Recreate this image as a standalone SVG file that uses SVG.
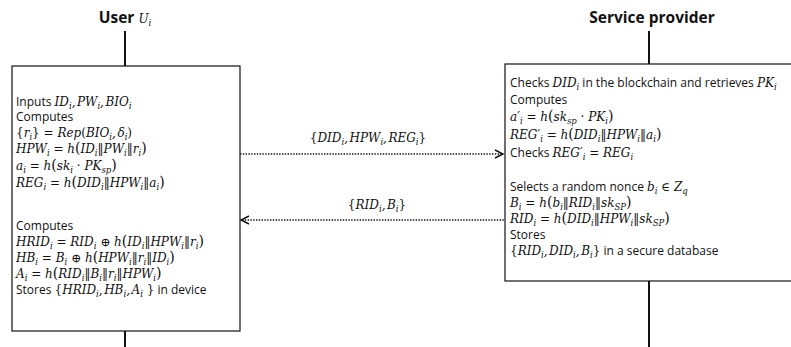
<svg xmlns="http://www.w3.org/2000/svg" width="791" height="347" viewBox="0 0 791 347">
  <defs>
    <style>
      .t { font-family: "Open Sans", "Liberation Sans", sans-serif; font-size: 12px; fill: #111; }
      .hd { font-family: "Open Sans", "Liberation Sans", sans-serif; font-size: 15.5px; font-weight: bold; fill: #111; }
      .m { font-family: "DejaVu Serif", "Liberation Serif", serif; font-style: italic; font-size: 12px; }
      .r { font-style: normal; }
      .s { font-size: 8.5px; baseline-shift: -3px; }
      .p { font-size: 14px; font-style: normal; }
      .box { fill: #fff; stroke: #111; stroke-width: 1.2; }
      .life { stroke: #111; stroke-width: 2; }
      .msg { stroke: #111; stroke-width: 1.3; stroke-dasharray: 1.4 1.4; fill: none; }
      .head { stroke: #111; stroke-width: 1.4; fill: none; }
    </style>
  </defs>

  <!-- user lifeline, title and registration box -->
  <g id="user">
    <text class="hd" x="125" y="23" text-anchor="middle">User <tspan class="m" font-weight="normal" font-size="15px">U<tspan class="s">i</tspan></tspan></text>
    <line class="life" x1="125" y1="31" x2="125" y2="66"/>
    <line class="life" x1="125" y1="331" x2="125" y2="347"/>
    <rect class="box" x="12" y="66" width="228" height="265"/>
    <text class="t" x="16" y="106">Inputs <tspan class="m">ID<tspan class="s">i</tspan>,<tspan dx="1.5">PW</tspan><tspan class="s">i</tspan>,<tspan dx="1.5">BIO</tspan><tspan class="s">i</tspan></tspan></text>
    <text class="t" x="16" y="121">Computes</text>
    <text class="t m" x="16" y="137"><tspan class="r">{</tspan>r<tspan class="s">i</tspan><tspan class="r">} = </tspan>Rep<tspan class="r">(</tspan>BIO<tspan class="s">i</tspan>,<tspan dx="1.5">δ</tspan><tspan class="s">i</tspan><tspan class="r">)</tspan></text>
    <text class="t m" x="16" y="153">HPW<tspan class="s">i</tspan><tspan class="r"> = </tspan>h<tspan class="p">(</tspan>ID<tspan class="s">i</tspan><tspan class="r">‖</tspan>PW<tspan class="s">i</tspan><tspan class="r">‖</tspan>r<tspan class="s">i</tspan><tspan class="p">)</tspan></text>
    <text class="t m" x="16" y="170">a<tspan class="s">i</tspan><tspan class="r"> = </tspan>h<tspan class="p">(</tspan>sk<tspan class="s">i</tspan><tspan class="r"> · </tspan>PK<tspan class="s">sp</tspan><tspan class="p">)</tspan></text>
    <text class="t m" x="16" y="187">REG<tspan class="s">i</tspan><tspan class="r"> = </tspan>h<tspan class="p">(</tspan>DID<tspan class="s">i</tspan><tspan class="r">‖</tspan>HPW<tspan class="s">i</tspan><tspan class="r">‖</tspan>a<tspan class="s">i</tspan><tspan class="p">)</tspan></text>
    <text class="t" x="16" y="230">Computes</text>
    <text class="t m" x="16" y="246">HRID<tspan class="s">i</tspan><tspan class="r"> = </tspan>RID<tspan class="s">i</tspan><tspan class="r"> ⊕ </tspan>h<tspan class="p">(</tspan>ID<tspan class="s">i</tspan><tspan class="r">‖</tspan>HPW<tspan class="s">i</tspan><tspan class="r">‖</tspan>r<tspan class="s">i</tspan><tspan class="p">)</tspan></text>
    <text class="t m" x="16" y="262">HB<tspan class="s">i</tspan><tspan class="r"> = </tspan>B<tspan class="s">i</tspan><tspan class="r"> ⊕ </tspan>h<tspan class="p">(</tspan>HPW<tspan class="s">i</tspan><tspan class="r">‖</tspan>r<tspan class="s">i</tspan><tspan class="r">‖</tspan>ID<tspan class="s">i</tspan><tspan class="p">)</tspan></text>
    <text class="t m" x="16" y="278">A<tspan class="s">i</tspan><tspan class="r"> = </tspan>h<tspan class="p">(</tspan>RID<tspan class="s">i</tspan><tspan class="r">‖</tspan>B<tspan class="s">i</tspan><tspan class="r">‖</tspan>r<tspan class="s">i</tspan><tspan class="r">‖</tspan>HPW<tspan class="s">i</tspan><tspan class="p">)</tspan></text>
    <text class="t" x="16" y="294">Stores <tspan class="m"><tspan class="r">{</tspan>HRID<tspan class="s">i</tspan>,<tspan dx="1.5">HB</tspan><tspan class="s">i</tspan>,<tspan dx="1.5">A</tspan><tspan class="s">i</tspan><tspan class="r"> }</tspan></tspan> in device</text>
  </g>

  <!-- service provider lifeline, title and processing box -->
  <g id="service-provider">
    <text class="hd" x="652" y="23" text-anchor="middle">Service provider</text>
    <line class="life" x1="649" y1="31" x2="649" y2="64"/>
    <line class="life" x1="649" y1="281" x2="649" y2="347"/>
    <rect class="box" x="505" y="64" width="300" height="217"/>
    <text class="t" x="510" y="87">Checks <tspan class="m">DID<tspan class="s">i</tspan></tspan> in the blockchain and retrieves <tspan class="m">PK<tspan class="s">i</tspan></tspan></text>
    <text class="t" x="510" y="104">Computes</text>
    <text class="t m" x="510" y="121">a<tspan class="r">′</tspan><tspan class="s">i</tspan><tspan class="r"> = </tspan>h<tspan class="p">(</tspan>sk<tspan class="s">sp</tspan><tspan class="r"> · </tspan>PK<tspan class="s">i</tspan><tspan class="p">)</tspan></text>
    <text class="t m" x="510" y="139">REG<tspan class="r">′</tspan><tspan class="s">i</tspan><tspan class="r"> = </tspan>h<tspan class="p">(</tspan>DID<tspan class="s">i</tspan><tspan class="r">‖</tspan>HPW<tspan class="s">i</tspan><tspan class="r">‖</tspan>a<tspan class="s">i</tspan><tspan class="p">)</tspan></text>
    <text class="t" x="510" y="157">Checks <tspan class="m">REG<tspan class="r">′</tspan><tspan class="s">i</tspan><tspan class="r"> = </tspan>REG<tspan class="s">i</tspan></tspan></text>
    <text class="t" x="510" y="191">Selects a random nonce <tspan class="m">b<tspan class="s">i</tspan><tspan class="r"> ∈ </tspan>Z<tspan class="s">q</tspan></tspan></text>
    <text class="t m" x="510" y="207">B<tspan class="s">i</tspan><tspan class="r"> = </tspan>h<tspan class="p">(</tspan>b<tspan class="s">i</tspan><tspan class="r">‖</tspan>RID<tspan class="s">i</tspan><tspan class="r">‖</tspan>sk<tspan class="s">SP</tspan><tspan class="p">)</tspan></text>
    <text class="t m" x="510" y="223">RID<tspan class="s">i</tspan><tspan class="r"> = </tspan>h<tspan class="p">(</tspan>DID<tspan class="s">i</tspan><tspan class="r">‖</tspan>HPW<tspan class="s">i</tspan><tspan class="r">‖</tspan>sk<tspan class="s">SP</tspan><tspan class="p">)</tspan></text>
    <text class="t" x="510" y="239">Stores</text>
    <text class="t" x="510" y="255"><tspan class="m"><tspan class="r">{</tspan>RID<tspan class="s">i</tspan>,<tspan dx="1.5">DID</tspan><tspan class="s">i</tspan>,<tspan dx="1.5">B</tspan><tspan class="s">i</tspan><tspan class="r">}</tspan></tspan> in a secure database</text>
  </g>

  <!-- messages exchanged between the two parties -->
  <g id="connectors">
    <line class="msg" x1="240" y1="154" x2="502" y2="154"/>
    <polyline class="head" points="495,150 503,154 495,158"/>
    <text class="t m" x="368" y="142" text-anchor="middle"><tspan class="r">{</tspan>DID<tspan class="s">i</tspan>,<tspan dx="1.5">HPW</tspan><tspan class="s">i</tspan>,<tspan dx="1.5">REG</tspan><tspan class="s">i</tspan><tspan class="r">}</tspan></text>

    <line class="msg" x1="242" y1="220" x2="505" y2="220"/>
    <polyline class="head" points="249,216 241,220 249,224"/>
    <text class="t m" x="377" y="209" text-anchor="middle"><tspan class="r">{</tspan>RID<tspan class="s">i</tspan>,<tspan dx="1.5">B</tspan><tspan class="s">i</tspan><tspan class="r">}</tspan></text>
  </g>
</svg>
